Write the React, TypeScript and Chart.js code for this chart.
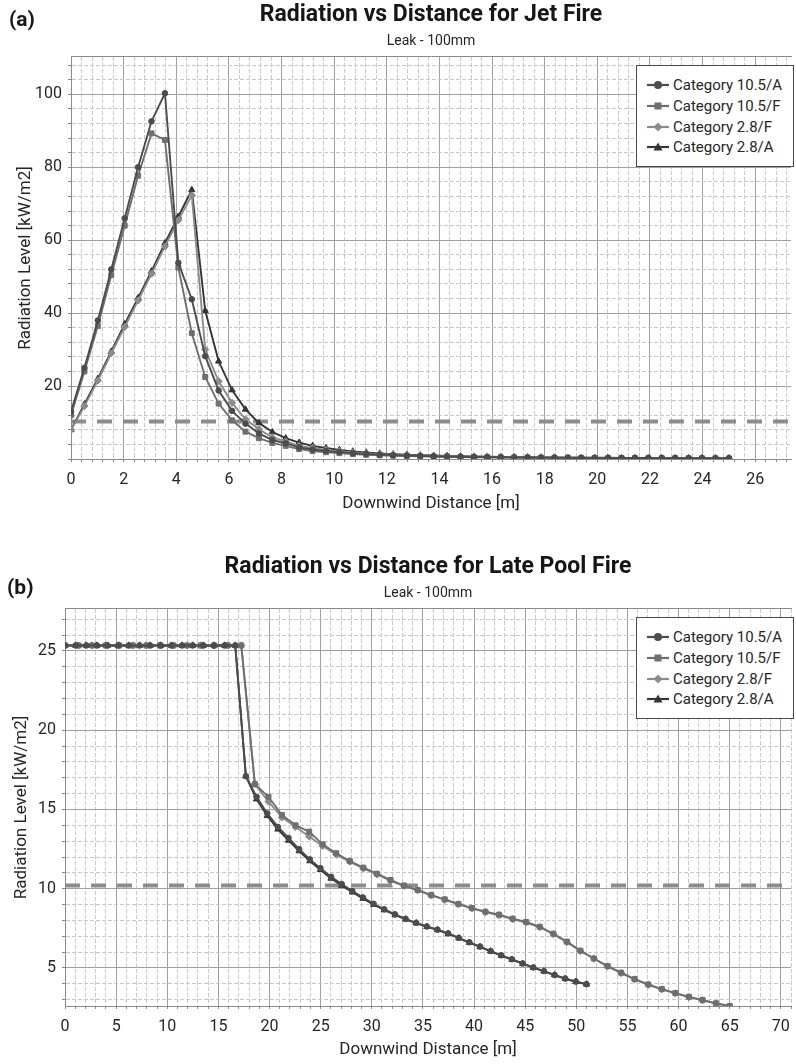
import React, { useEffect, useRef } from 'react';
import { Chart, registerables } from 'chart.js';

Chart.register(...registerables);

const FONT = 'Roboto, "Noto Sans", "DejaVu Sans", sans-serif';

// ---------- shared series styling ----------
const SERIES_LABELS = ['Category 10.5/A', 'Category 10.5/F', 'Category 2.8/F', 'Category 2.8/A'];
const SERIES_COLORS = ['#4c4c4c', '#6f6f6f', '#8c8c8c', '#353535'];
const SERIES_MARKERS = ['circle', 'rect', 'rectRot', 'triangle'];
const SERIES_RADIUS = [2.8, 3.5, 3.6, 3.6];

// ---------- (a) Jet fire ----------
const JET_TITLE = 'Radiation vs Distance for Jet Fire';
const JET_SUBTITLE = 'Leak - 100mm';
const JET_X = [
  0, 0.51, 1.02, 1.53, 2.04, 2.55, 3.06, 3.57, 4.08, 4.59,
  5.1, 5.61, 6.12, 6.63, 7.14, 7.65, 8.16, 8.67, 9.18, 9.69,
  10.2, 10.71, 11.22, 11.73, 12.24, 12.76, 13.27, 13.78, 14.29, 14.8,
  15.31, 15.82, 16.33, 16.84, 17.35, 17.86, 18.37, 18.88, 19.39, 19.9,
  20.41, 20.92, 21.43, 21.94, 22.45, 22.96, 23.47, 23.98, 24.49, 25,
];
const JET_105A = [
  13, 25, 38, 52, 66, 80, 92.6, 100.3, 53.8, 43.8,
  28.2, 18.8, 13.2, 9.7, 7.0, 5.2, 4.3, 3.2, 2.6, 2.2,
  1.9, 1.6, 1.4, 1.2, 1.05, 0.95, 0.85, 0.76, 0.69, 0.63,
  0.58, 0.53, 0.49, 0.45, 0.42, 0.39, 0.37, 0.35, 0.33, 0.31,
  0.29, 0.28, 0.27, 0.26, 0.25, 0.24, 0.23, 0.22, 0.21, 0.2,
];
const JET_105F = [
  12, 24, 36.5, 50.4, 64, 77.7, 89.3, 87.5, 52.5, 34.5,
  22.5, 15.2, 10.6, 7.5, 5.7, 4.4, 3.6, 2.7, 2.2, 1.85,
  1.6, 1.35, 1.15, 1.0, 0.9, 0.8, 0.72, 0.65, 0.59, 0.54,
  0.5, 0.46, 0.42, 0.39, 0.36, 0.34, 0.32, 0.3, 0.28, 0.26,
  0.25, 0.24, 0.23, 0.22, 0.21, 0.2, 0.19, 0.18, 0.17, 0.16,
];
const JET_28F = [
  8, 14.5, 21.5, 29, 36.2, 43.5, 50.8, 58.3, 65.5, 72.3,
  30.0, 21.3, 15.4, 10.9, 8.2, 5.9, 4.8, 3.6, 3.0, 2.5,
  2.1, 1.8, 1.55, 1.35, 1.2, 1.05, 0.93, 0.83, 0.75, 0.68,
  0.62, 0.57, 0.52, 0.48, 0.44, 0.41, 0.38, 0.36, 0.34, 0.32,
  0.3, 0.28, 0.27, 0.26, 0.25, 0.24, 0.23, 0.22, 0.21, 0.2,
];
const JET_28A = [
  8, 15, 22, 29.5, 37, 44.2, 51.5, 59.2, 66.5, 73.8,
  40.7, 26.8, 18.9, 13.6, 9.9, 7.4, 5.7, 4.5, 3.6, 3.0,
  2.5, 2.1, 1.8, 1.55, 1.35, 1.2, 1.05, 0.95, 0.85, 0.77,
  0.7, 0.64, 0.58, 0.53, 0.49, 0.45, 0.42, 0.39, 0.37, 0.35,
  0.33, 0.31, 0.29, 0.28, 0.27, 0.26, 0.25, 0.24, 0.23, 0.22,
];
const JET_THRESHOLD = 10.3;
const JET_X_RANGE = [0, 27.36];
const JET_Y_RANGE = [0, 110.25];
const JET_X_TICKS = [0, 2, 4, 6, 8, 10, 12, 14, 16, 18, 20, 22, 24, 26];
const JET_Y_TICKS = [20, 40, 60, 80, 100];

// ---------- (b) Late pool fire ----------
const POOL_TITLE = 'Radiation vs Distance for Late Pool Fire';
const POOL_SUBTITLE = 'Leak - 100mm';
const POOL_X_A = [
  0, 1.04, 2.08, 3.12, 4.16, 5.2, 6.24, 7.29, 8.33, 9.37,
  10.41, 11.45, 12.49, 13.53, 14.57, 15.61, 16.65, 17.69, 18.73, 19.78,
  20.82, 21.86, 22.9, 23.94, 24.98, 26.02, 27.06, 28.1, 29.14, 30.18,
  31.22, 32.27, 33.31, 34.35, 35.39, 36.43, 37.47, 38.51, 39.55, 40.59,
  41.63, 42.67, 43.71, 44.76, 45.8, 46.84, 47.88, 48.92, 49.96, 51.0,
];
const POOL_X_F = [
  0, 1.33, 2.65, 3.98, 5.31, 6.63, 7.96, 9.29, 10.61, 11.94,
  13.27, 14.59, 15.92, 17.24, 18.57, 19.9, 21.22, 22.55, 23.88, 25.2,
  26.53, 27.86, 29.18, 30.51, 31.84, 33.16, 34.49, 35.82, 37.14, 38.47,
  39.8, 41.12, 42.45, 43.78, 45.1, 46.43, 47.76, 49.08, 50.41, 51.73,
  53.06, 54.39, 55.71, 57.04, 58.37, 59.69, 61.02, 62.35, 63.67, 65.0,
];
const POOL_105A = [
  25.35, 25.35, 25.35, 25.35, 25.35, 25.35, 25.35, 25.35, 25.35, 25.35,
  25.35, 25.35, 25.35, 25.35, 25.35, 25.35, 25.35, 17.1, 15.8, 14.75,
  13.9, 13.2, 12.5, 11.85, 11.3, 10.75, 10.3, 9.85, 9.45, 9.05,
  8.7, 8.38, 8.1, 7.85, 7.62, 7.42, 7.18, 6.9, 6.62, 6.35,
  6.07, 5.8, 5.55, 5.28, 5.03, 4.8, 4.56, 4.33, 4.14, 3.98,
];
const POOL_105F = [
  25.35, 25.35, 25.35, 25.35, 25.35, 25.35, 25.35, 25.35, 25.35, 25.35,
  25.35, 25.35, 25.35, 25.35, 16.6, 15.8, 14.65, 14.0, 13.6, 12.8,
  12.24, 11.75, 11.33, 10.95, 10.55, 10.2, 9.92, 9.6, 9.33, 9.04,
  8.78, 8.55, 8.36, 8.11, 7.9, 7.6, 7.16, 6.66, 6.09, 5.6,
  5.12, 4.7, 4.3, 3.96, 3.67, 3.42, 3.18, 2.98, 2.77, 2.6,
];
const POOL_28F = [
  25.35, 25.35, 25.35, 25.35, 25.35, 25.35, 25.35, 25.35, 25.35, 25.35,
  25.35, 25.35, 25.35, 25.35, 16.6, 15.5, 14.5, 13.9, 13.3, 12.7,
  12.15, 11.7, 11.28, 10.9, 10.5, 10.17, 9.9, 9.58, 9.3, 9.02,
  8.76, 8.53, 8.33, 8.08, 7.87, 7.57, 7.13, 6.63, 6.07, 5.58,
  5.1, 4.68, 4.28, 3.94, 3.65, 3.4, 3.16, 2.96, 2.75, 2.58,
];
const POOL_28A = [
  25.35, 25.35, 25.35, 25.35, 25.35, 25.35, 25.35, 25.35, 25.35, 25.35,
  25.35, 25.35, 25.35, 25.35, 25.35, 25.35, 25.35, 17.1, 15.65, 14.6,
  13.75, 13.05, 12.38, 11.75, 11.2, 10.65, 10.2, 9.78, 9.38, 9.0,
  8.66, 8.35, 8.07, 7.83, 7.6, 7.4, 7.16, 6.88, 6.6, 6.33,
  6.05, 5.78, 5.53, 5.27, 5.02, 4.79, 4.55, 4.32, 4.13, 3.97,
];
const POOL_THRESHOLD = 10.2;
const POOL_X_RANGE = [0, 71];
const POOL_Y_RANGE = [2.6, 27.65];
const POOL_X_TICKS = [0, 5, 10, 15, 20, 25, 30, 35, 40, 45, 50, 55, 60, 65, 70];
const POOL_Y_TICKS = [5, 10, 15, 20, 25];

const X_TITLE = 'Downwind Distance [m]';
const Y_TITLE = 'Radiation Level [kW/m2]';

type SeriesDef = { xs: number[]; ys: number[] };
type Spec = {
  title: string;
  subtitle: string;
  series: SeriesDef[];
  threshold: number;
  xRange: number[];
  yRange: number[];
  xTicks: number[];
  yTicks: number[];
  xMajor: number;
  xMinor: number;
  yMajor: number;
  yMinor: number;
  yAxisWidth: number;
  yTitlePad: number;
  xAxisHeight: number;
  padBottom: number;
};

function onStep(v: number, step: number) {
  const r = v / step;
  return Math.abs(r - Math.round(r)) < 1e-6;
}

const MAJOR_GRID = '#a0a0a0';
const MINOR_GRID = '#c9c9c9';
const AXIS_COLOR = '#8a8a8a';
const TEXT = '#262626';

function buildConfig(spec: Spec): any {
  const datasets: any[] = spec.series.map((s, i) => ({
    label: SERIES_LABELS[i],
    data: s.xs.map((x, k) => ({ x, y: s.ys[k] })),
    borderColor: SERIES_COLORS[i],
    backgroundColor: SERIES_COLORS[i],
    pointBackgroundColor: SERIES_COLORS[i],
    pointBorderColor: SERIES_COLORS[i],
    pointStyle: SERIES_MARKERS[i],
    pointRadius: SERIES_RADIUS[i],
    pointBorderWidth: 1,
    borderWidth: 1.9,
    tension: 0,
    showLine: true,
    fill: false,
    xAxisID: 'x',
    yAxisID: 'y',
  }));
  datasets.push({
    label: 'threshold',
    data: spec.xRange.map((x) => ({ x, y: spec.threshold })),
    borderColor: '#8c8c8c',
    borderWidth: 4,
    borderDash: [15, 11],
    borderCapStyle: 'butt',
    pointRadius: 0,
    fill: false,
    xAxisID: 'x',
    yAxisID: 'y',
  });

  const [xMin, xMax] = spec.xRange;
  const [yMin, yMax] = spec.yRange;

  return {
    type: 'line',
    data: { datasets },
    options: {
      animation: false,
      responsive: false,
      maintainAspectRatio: false,
      devicePixelRatio: 1,
      layout: { padding: { top: 0, left: 0, right: 0, bottom: spec.padBottom } },
      plugins: {
        legend: { display: false },
        tooltip: { enabled: false },
        title: {
          display: true,
          text: spec.title,
          fullSize: false,
          color: '#161616',
          font: { family: FONT, size: 23, weight: 'bold' },
          padding: { top: 1, bottom: 4 },
        },
        subtitle: {
          display: true,
          text: spec.subtitle,
          fullSize: false,
          color: TEXT,
          font: { family: FONT, size: 14 },
          padding: { top: 0, bottom: 7.6 },
        },
      },
      scales: {
        x: {
          type: 'linear',
          position: 'bottom',
          weight: 1,
          min: xMin,
          max: xMax,
          afterBuildTicks: (s: any) => {
            s.ticks = spec.xTicks.map((v) => ({ value: v }));
          },
          ticks: {
            color: TEXT,
            font: { family: FONT, size: 16 },
            padding: 8,
            autoSkip: false,
            maxRotation: 0,
          },
          grid: { color: MAJOR_GRID, lineWidth: 1, drawTicks: false },
          border: { display: false },
          title: {
            display: true,
            text: X_TITLE,
            color: TEXT,
            font: { family: FONT, size: 17 },
            padding: { top: 0, bottom: 0 },
          },
          afterFit: (s: any) => {
            s.height = spec.xAxisHeight;
            s.paddingLeft = 0;
            s.paddingRight = 0;
          },
        },
        xm: {
          type: 'linear',
          position: 'bottom',
          weight: 0,
          min: xMin,
          max: xMax,
          ticks: { display: false, stepSize: spec.xMinor, includeBounds: false },
          grid: {
            color: (c: any) => (onStep(c.tick.value, spec.xMajor) ? 'rgba(0,0,0,0)' : MINOR_GRID),
            tickColor: AXIS_COLOR,
            tickLength: 3,
            drawTicks: true,
            lineWidth: 1,
          },
          border: { display: true, color: AXIS_COLOR, width: 1, dash: [4, 2] },
        },
        xt: {
          type: 'linear',
          position: 'top',
          min: xMin,
          max: xMax,
          ticks: { display: false },
          grid: { display: true, drawOnChartArea: false, drawTicks: false },
          border: { display: true, color: AXIS_COLOR, width: 1 },
        },
        y: {
          type: 'linear',
          position: 'left',
          weight: 1,
          min: yMin,
          max: yMax,
          afterBuildTicks: (s: any) => {
            s.ticks = spec.yTicks.map((v) => ({ value: v }));
          },
          ticks: {
            color: TEXT,
            font: { family: FONT, size: 16 },
            padding: 6,
            autoSkip: false,
          },
          grid: { color: MAJOR_GRID, lineWidth: 1, drawTicks: false },
          border: { display: false },
          title: {
            display: true,
            text: Y_TITLE,
            color: TEXT,
            font: { family: FONT, size: 17 },
            padding: { top: spec.yTitlePad, bottom: 0 },
          },
          afterFit: (s: any) => {
            s.width = spec.yAxisWidth;
            s.paddingTop = 0;
            s.paddingBottom = 0;
          },
        },
        ym: {
          type: 'linear',
          position: 'left',
          weight: 0,
          min: yMin,
          max: yMax,
          ticks: { display: false, stepSize: spec.yMinor, includeBounds: false },
          grid: {
            color: (c: any) => (onStep(c.tick.value, spec.yMajor) ? 'rgba(0,0,0,0)' : MINOR_GRID),
            tickColor: AXIS_COLOR,
            tickLength: 3,
            drawTicks: true,
            lineWidth: 1,
          },
          border: { display: true, color: AXIS_COLOR, width: 1, dash: [4, 2] },
        },
      },
    },
  };
}

const JET_SPEC: Spec = {
  title: JET_TITLE,
  subtitle: JET_SUBTITLE,
  series: [
    { xs: JET_X, ys: JET_105A },
    { xs: JET_X, ys: JET_105F },
    { xs: JET_X, ys: JET_28F },
    { xs: JET_X, ys: JET_28A },
  ],
  threshold: JET_THRESHOLD,
  xRange: JET_X_RANGE,
  yRange: JET_Y_RANGE,
  xTicks: JET_X_TICKS,
  yTicks: JET_Y_TICKS,
  xMajor: 2,
  xMinor: 0.4,
  yMajor: 20,
  yMinor: 4,
  yAxisWidth: 68,
  yTitlePad: 15.5,
  xAxisHeight: 52.2,
  padBottom: 15.8,
};

const POOL_SPEC: Spec = {
  title: POOL_TITLE,
  subtitle: POOL_SUBTITLE,
  series: [
    { xs: POOL_X_A, ys: POOL_105A },
    { xs: POOL_X_F, ys: POOL_105F },
    { xs: POOL_X_F, ys: POOL_28F },
    { xs: POOL_X_A, ys: POOL_28A },
  ],
  threshold: POOL_THRESHOLD,
  xRange: POOL_X_RANGE,
  yRange: POOL_Y_RANGE,
  xTicks: POOL_X_TICKS,
  yTicks: POOL_Y_TICKS,
  xMajor: 5,
  xMinor: 1,
  yMajor: 5,
  yMinor: 1,
  yAxisWidth: 62,
  yTitlePad: 11.5,
  xAxisHeight: 51.2,
  padBottom: 3.8,
};

function ChartCanvas({ spec, top, height }: { spec: Spec; top: number; height: number }) {
  const ref = useRef<HTMLCanvasElement>(null);
  useEffect(() => {
    if (!ref.current) return;
    const chart = new Chart(ref.current, buildConfig(spec));
    return () => chart.destroy();
  }, [spec]);
  return (
    <canvas
      ref={ref}
      width={796}
      height={height}
      style={{ position: 'absolute', left: 0, top, width: 796, height }}
    />
  );
}

function Marker({ kind, color }: { kind: string; color: string }) {
  if (kind === 'circle') return <circle cx={11} cy={6} r={4} fill={color} />;
  if (kind === 'rect') return <rect x={7.5} y={2.5} width={7} height={7} fill={color} />;
  if (kind === 'rectRot') return <polygon points="11,1.5 15.5,6 11,10.5 6.5,6" fill={color} />;
  return <polygon points="11,1.5 15.5,9.5 6.5,9.5" fill={color} />;
}

function LegendBox({ top, left }: { top: number; left: number }) {
  return (
    <div
      style={{
        position: 'absolute',
        top,
        left,
        width: 158,
        height: 102,
        boxSizing: 'border-box',
        border: '1.5px solid #4a4a4a',
        background: '#ffffff',
        paddingTop: 9,
      }}
    >
      {SERIES_LABELS.map((name, i) => (
        <div
          key={name}
          style={{
            height: 20.7,
            display: 'flex',
            alignItems: 'center',
            fontFamily: FONT,
            fontSize: 15,
            color: TEXT,
            whiteSpace: 'nowrap',
          }}
        >
          <svg width={22} height={12} style={{ marginLeft: 10, marginRight: 4, flex: 'none' }}>
            <line x1={0} y1={6} x2={22} y2={6} stroke={SERIES_COLORS[i]} strokeWidth={2.2} />
            <Marker kind={SERIES_MARKERS[i]} color={SERIES_COLORS[i]} />
          </svg>
          <span>{name}</span>
        </div>
      ))}
    </div>
  );
}

const panelLabel: React.CSSProperties = {
  position: 'absolute',
  fontFamily: FONT,
  fontWeight: 'bold',
  fontSize: 21,
  lineHeight: '24px',
  color: '#161616',
};

export default function App() {
  return (
    <div
      style={{
        position: 'absolute',
        left: 0,
        top: 0,
        width: 796,
        height: 1064,
        background: '#ffffff',
        overflow: 'hidden',
      }}
    >
      <ChartCanvas spec={JET_SPEC} top={0} height={530} />
      <ChartCanvas spec={POOL_SPEC} top={552} height={512} />
      <div style={{ ...panelLabel, left: 9, top: 7 }}>(a)</div>
      <div style={{ ...panelLabel, left: 7, top: 575 }}>(b)</div>
      <LegendBox top={65} left={636} />
      <LegendBox top={617} left={636} />
    </div>
  );
}
